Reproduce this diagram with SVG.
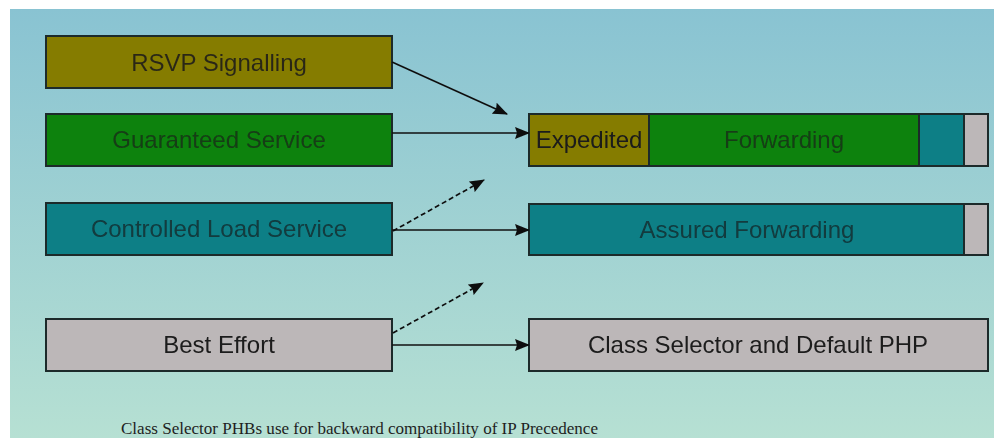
<svg xmlns="http://www.w3.org/2000/svg" width="994" height="438" viewBox="0 0 994 438">
  <defs>
    <linearGradient id="bg" x1="0" y1="0" x2="0" y2="1">
      <stop offset="0" stop-color="#89c3d2"/>
      <stop offset="1" stop-color="#b6e0d3"/>
    </linearGradient>
    <marker id="arrow" markerWidth="15" markerHeight="12" refX="14" refY="6" orient="auto" markerUnits="userSpaceOnUse">
      <path d="M0,0 L15,6 L0,12 L2,6 Z" fill="#111"/>
    </marker>
    <filter id="soft" x="-5%" y="-20%" width="110%" height="140%">
      <feGaussianBlur stdDeviation="0.45"/>
    </filter>
  </defs>
  <style>
    .box { stroke: #1c2a2a; stroke-width: 2; }
    .olive { fill: #857c00; }
    .green { fill: #0a820a; }
    .teal { fill: #0b7f86; }
    .gray { fill: #bcb7b8; }
    .label { font-family: "Liberation Sans", Arial, sans-serif; font-size: 24px; text-anchor: middle; fill: #1a1a1a; }
    .conn { stroke: #111; stroke-width: 1.7; fill: none; }
    .dash { stroke-dasharray: 5 3; }
    .note { font-family: "Liberation Serif", "Times New Roman", serif; font-size: 16px; fill: #1e1e1e; }
  </style>

  <!-- page background -->
  <rect x="0" y="0" width="994" height="438" fill="#ffffff"/>
  <rect x="10" y="9" width="984" height="429" fill="url(#bg)"/>

  <g filter="url(#soft)">
    <!-- source services -->
    <g id="rsvp">
      <rect class="box olive" x="46" y="36" width="346" height="52"/>
      <text class="label" x="219" y="71" fill-opacity="0.85">RSVP Signalling</text>
    </g>
    <g id="guaranteed">
      <rect class="box green" x="46" y="114" width="346" height="52"/>
      <text class="label" x="219" y="148" style="fill:#163c16">Guaranteed Service</text>
    </g>
    <g id="controlled">
      <rect class="box teal" x="46" y="203" width="346" height="52"/>
      <text class="label" x="219" y="237" style="fill:#123a3e">Controlled Load Service</text>
    </g>
    <g id="best-effort">
      <rect class="box gray" x="46" y="319" width="346" height="52"/>
      <text class="label" x="219" y="353">Best Effort</text>
    </g>

    <!-- per-hop behaviours -->
    <g id="ef">
      <rect class="box olive" x="529" y="114" width="120" height="52"/>
      <rect class="box green" x="649" y="114" width="270" height="52"/>
      <rect class="box teal" x="919" y="114" width="45" height="52"/>
      <rect class="box gray" x="964" y="114" width="24" height="52"/>
      <text class="label" x="589" y="148">Expedited</text>
      <text class="label" x="784" y="148" style="fill:#163c16">Forwarding</text>
    </g>
    <g id="af">
      <rect class="box teal" x="529" y="204" width="435" height="51"/>
      <rect class="box gray" x="964" y="204" width="24" height="51"/>
      <text class="label" x="747" y="238" style="fill:#123a3e">Assured Forwarding</text>
    </g>
    <g id="cs">
      <rect class="box gray" x="529" y="319" width="459" height="52"/>
      <text class="label" x="758" y="353">Class Selector and Default PHP</text>
    </g>

    <!-- connectors -->
    <g id="connectors">
      <line class="conn" x1="392" y1="62" x2="507" y2="114" marker-end="url(#arrow)"/>
      <line class="conn" x1="392" y1="133" x2="529" y2="133" marker-end="url(#arrow)"/>
      <line class="conn dash" x1="393" y1="231" x2="484" y2="180" marker-end="url(#arrow)"/>
      <line class="conn" x1="392" y1="230" x2="529" y2="230" marker-end="url(#arrow)"/>
      <line class="conn dash" x1="393" y1="333" x2="483" y2="283" marker-end="url(#arrow)"/>
      <line class="conn" x1="392" y1="345" x2="529" y2="345" marker-end="url(#arrow)"/>
    </g>
  </g>

  <text class="note" x="121" y="434" textLength="477" lengthAdjust="spacingAndGlyphs">Class Selector PHBs use for backward compatibility of IP Precedence</text>
</svg>
